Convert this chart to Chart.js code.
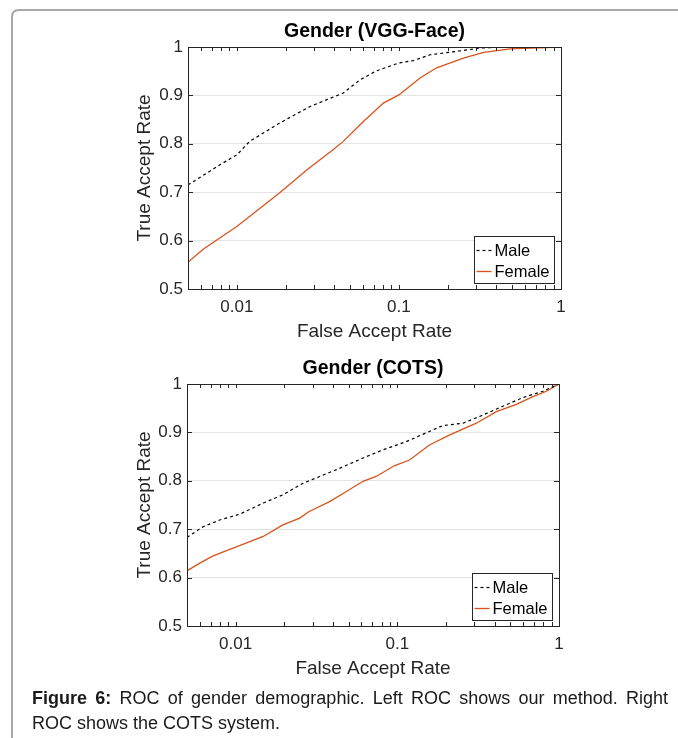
<!DOCTYPE html>
<html>
<head>
<meta charset="utf-8">
<script src="https://cdn.jsdelivr.net/npm/chart.js@4.4.1/dist/chart.umd.min.js"></script>
<style>
  body { margin: 0; background: #fff; width: 678px; height: 738px; overflow: hidden; position: relative; font-family: "Liberation Sans", Arial, sans-serif; }
  #frame { position: absolute; left: 0; top: 0; }
  canvas { position: absolute; left: 0; }
  #c1 { top: 0; }
  #c2 { top: 350px; }
  .cap { position: absolute; left: 32px; width: 636px; font-size: 18px; line-height: 25px; color: #1a1a1a; white-space: nowrap; }
  #cap1 { top: 686px; text-align: justify; text-align-last: justify; white-space: normal; }
  #cap2 { top: 711px; }
</style>
</head>
<body>
<svg id="frame" width="678" height="738">
  <path d="M12 738 L12 17 Q12 10 19 10 L678 10" fill="none" stroke="#a8a8a8" stroke-width="2"/>
</svg>
<canvas id="c1" width="678" height="350"></canvas>
<canvas id="c2" width="678" height="340"></canvas>
<div class="cap" id="cap1"><b>Figure 6:</b> ROC of gender demographic. Left ROC shows our method. Right</div>
<div class="cap" id="cap2">ROC shows the COTS system.</div>

<script>
// ---- data ----
var vggMaleFar   = [0.005,0.0065,0.0079,0.01,0.012,0.0184,0.0283,0.0454,0.0575,0.073,0.1,0.123,0.156,0.228,0.318,0.45,1];
var vggMaleTar   = [0.715,0.739,0.757,0.777,0.805,0.843,0.877,0.905,0.932,0.951,0.967,0.972,0.984,0.991,0.998,1.0,1.0];
var vggFemaleFar = [0.005,0.0062,0.01,0.0184,0.027,0.0394,0.0454,0.0604,0.0802,0.1,0.135,0.171,0.25,0.333,0.486,1];
var vggFemaleTar = [0.555,0.582,0.629,0.699,0.746,0.788,0.805,0.846,0.884,0.901,0.936,0.957,0.977,0.989,0.996,1.0];

var cotsMaleFar   = [0.005,0.00628,0.00796,0.0106,0.0148,0.0196,0.0261,0.0331,0.042,0.0613,0.0815,0.1135,0.158,0.191,0.255,0.339,0.45,0.598,0.796,1];
var cotsMaleTar   = [0.683,0.705,0.719,0.731,0.754,0.771,0.795,0.809,0.823,0.847,0.864,0.881,0.902,0.914,0.919,0.936,0.954,0.972,0.985,1.0];
var cotsFemaleFar = [0.005,0.006,0.00725,0.01,0.0148,0.0196,0.0249,0.0283,0.0381,0.0484,0.0613,0.0741,0.0955,0.119,0.158,0.211,0.308,0.41,0.545,0.69,0.836,1];
var cotsFemaleTar = [0.614,0.630,0.645,0.663,0.685,0.709,0.723,0.736,0.757,0.778,0.799,0.809,0.831,0.843,0.874,0.895,0.919,0.943,0.958,0.974,0.985,1.0];

var seriesNames = ["Male", "Female"];
var xTickVals = [0.01, 0.1, 1];
var xMinorVals = [0.005,0.006,0.007,0.008,0.009,0.02,0.03,0.04,0.05,0.06,0.07,0.08,0.09,0.2,0.3,0.4,0.5,0.6,0.7,0.8,0.9];
var yTickVals = [0.5, 0.6, 0.7, 0.8, 0.9, 1];

var FONT = '"Liberation Sans", Arial, sans-serif';
var AXIS = '#262626';
var ORANGE = '#D95319';

function pts(xs, ys) {
  return xs.map(function (x, i) { return {x: x, y: ys[i]}; });
}

// box frame, inward ticks, legend (matlab style)
var matlabAxes = {
  id: 'matlabAxes',
  afterDatasetsDraw: function (chart) {
    var ctx = chart.ctx, a = chart.chartArea;
    var xs = chart.scales.x, ys = chart.scales.y;
    ctx.save();
    ctx.strokeStyle = AXIS;
    ctx.lineWidth = 1;
    ctx.beginPath();
    yTickVals.forEach(function (v) {
      var py = Math.round(ys.getPixelForValue(v)) + 0.5;
      ctx.moveTo(a.left, py); ctx.lineTo(a.left + 5, py);
      ctx.moveTo(a.right, py); ctx.lineTo(a.right - 5, py);
    });
    xTickVals.concat(xMinorVals).forEach(function (v) {
      var px = Math.round(xs.getPixelForValue(v)) + 0.5;
      ctx.moveTo(px, a.bottom); ctx.lineTo(px, a.bottom - 4);
      ctx.moveTo(px, a.top); ctx.lineTo(px, a.top + 4);
    });
    ctx.stroke();
    ctx.strokeRect(Math.round(a.left) + 0.5, Math.round(a.top) + 0.5,
                   Math.round(a.right - a.left), Math.round(a.bottom - a.top));

    // legend box
    var w = 80, h = 47;
    var x0 = Math.round(a.right - 7 - w) + 0.5, y0 = Math.round(a.bottom - 6 - h) + 0.5;
    ctx.fillStyle = '#fff';
    ctx.fillRect(x0, y0, w, h);
    ctx.strokeRect(x0, y0, w, h);
    ctx.font = '16.5px ' + FONT;
    ctx.textBaseline = 'middle';
    chart.data.datasets.forEach(function (ds, i) {
      var cy = y0 + 14 + i * 21;
      ctx.strokeStyle = ds.borderColor;
      ctx.lineWidth = ds.borderWidth;
      ctx.setLineDash(ds.borderDash || []);
      ctx.beginPath();
      ctx.moveTo(x0 + 2, cy); ctx.lineTo(x0 + 17, cy);
      ctx.stroke();
      ctx.setLineDash([]);
      ctx.fillStyle = '#000';
      ctx.fillText(ds.label, x0 + 20, cy + 1);
    });
    ctx.restore();
  }
};

function makeChart(id, title, maleX, maleY, femX, femY, box) {
  var padLeft = 125, xAxisH = 56;
  var canvas = document.getElementById(id);
  new Chart(canvas, {
    type: 'scatter',
    data: {
      datasets: [{
        label: seriesNames[0],
        data: pts(maleX, maleY),
        showLine: true,
        borderColor: '#000',
        borderWidth: 1.2,
        borderDash: [3, 3],
        pointRadius: 0,
        tension: 0
      }, {
        label: seriesNames[1],
        data: pts(femX, femY),
        showLine: true,
        borderColor: ORANGE,
        borderWidth: 1.3,
        pointRadius: 0,
        tension: 0
      }]
    },
    options: {
      responsive: false,
      animation: false,
      layout: {
        padding: {left: padLeft, right: canvas.width - box.right, top: 0,
                  bottom: canvas.height - box.bottom - xAxisH}
      },
      plugins: {
        legend: {display: false},
        tooltip: {enabled: false},
        title: {
          display: true,
          fullSize: false,
          text: title,
          color: '#000',
          font: {family: FONT, size: 19.5, weight: 'bold', lineHeight: 1.2},
          padding: {top: box.titleY - 11.7, bottom: box.top - box.titleY - 11.7}
        }
      },
      scales: {
        x: {
          type: 'logarithmic',
          min: 0.005,
          max: 1,
          afterBuildTicks: function (s) { s.ticks = xTickVals.map(function (v) { return {value: v}; }); },
          afterFit: function (s) { s.height = xAxisH; },
          grid: {display: false, drawTicks: false},
          border: {display: false},
          ticks: {
            color: AXIS, padding: 8, maxRotation: 0,
            font: {family: FONT, size: 17},
            callback: function (v) { return String(v); }
          },
          title: {
            display: true, text: 'False Accept Rate', color: AXIS,
            font: {family: FONT, size: 19}, padding: {top: 0, bottom: 2}
          }
        },
        y: {
          min: 0.5,
          max: 1,
          afterBuildTicks: function (s) { s.ticks = yTickVals.map(function (v) { return {value: v}; }); },
          afterFit: function (s) { s.width = box.left - padLeft; },
          grid: {color: '#e3e3e3', drawTicks: false},
          border: {display: false},
          ticks: {
            color: AXIS, padding: 5,
            font: {family: FONT, size: 17},
            callback: function (v) { return String(v); }
          },
          title: {
            display: true, text: 'True Accept Rate', color: AXIS,
            font: {family: FONT, size: 19}, padding: {top: 8.6, bottom: 0}
          }
        }
      }
    },
    plugins: [matlabAxes]
  });
}

makeChart('c1', 'Gender (VGG-Face)', vggMaleFar, vggMaleTar, vggFemaleFar, vggFemaleTar,
  {left: 188, right: 561, top: 47, bottom: 289, titleY: 32});
makeChart('c2', 'Gender (COTS)', cotsMaleFar, cotsMaleTar, cotsFemaleFar, cotsFemaleTar,
  {left: 187, right: 559, top: 34, bottom: 276, titleY: 19});
</script>
</body>
</html>
